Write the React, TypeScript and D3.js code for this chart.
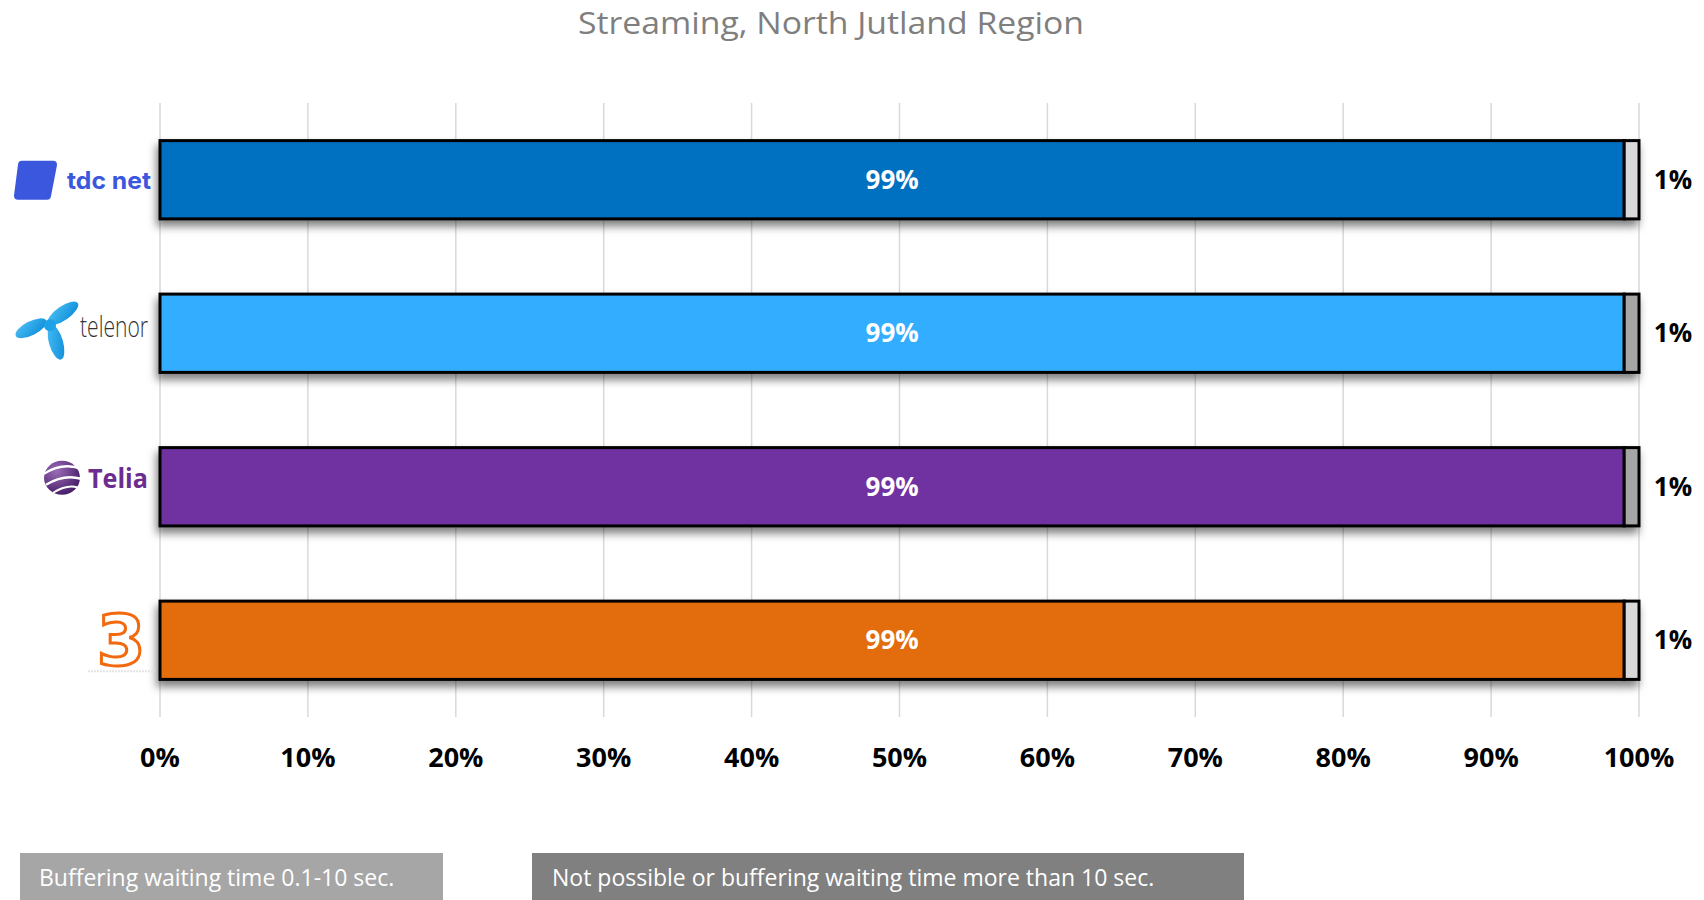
import React from "react";
import * as d3 from "d3";

const operators = ["tdc net", "telenor", "Telia", "3"];
const goodValues = [99, 99, 99, 99];
const restValues = [1, 1, 1, 1];
const barColors = ["#0070c0", "#33adff", "#7030a0", "#e36c0a"];
const restColors = ["#d9d9d9", "#a6a6a6", "#a6a6a6", "#d9d9d9"];
const xTicks = [0, 10, 20, 30, 40, 50, 60, 70, 80, 90, 100];
const legendLabels = [
  "Buffering waiting time 0.1-10 sec.",
  "Not possible or buffering waiting time more than 10 sec.",
];
const legendColors = ["#a6a6a6", "#808080"];
const title = "Streaming, North Jutland Region";

const W = 1704;
const H = 900;
const M = { left: 160, right: 65, top: 103, bottom: 183 };

function Logo({ name, cy }: { name: string; cy: number }) {
  if (name === "tdc net") {
    return (
      <g>
        <path
          d={`M22,${cy - 15} L53,${cy - 15} L47,${cy + 16} L18,${cy + 16} Z`}
          fill="#3b57dd"
          stroke="#3b57dd"
          strokeWidth={8}
          strokeLinejoin="round"
        />
        <text x={67} y={cy + 9} fontFamily="Inter, 'Open Sans', sans-serif" fontWeight={700} fontSize={24} textLength={84} lengthAdjust="spacingAndGlyphs" fill="#3b57dd">
          tdc net
        </text>
      </g>
    );
  }
  if (name === "telenor") {
    const c = cy - 8;
    return (
      <g>
        <defs>
          <linearGradient id="tg" x1="0" y1="0" x2="1" y2="1">
            <stop offset="0" stopColor="#4cc0f5" />
            <stop offset="1" stopColor="#0a8ad8" />
          </linearGradient>
        </defs>
        <ellipse cx={63} cy={c - 12} rx={18} ry={7} transform={`rotate(-35 63 ${c - 12})`} fill="url(#tg)" />
        <ellipse cx={31} cy={c + 3} rx={17} ry={7} transform={`rotate(-27 31 ${c + 3})`} fill="url(#tg)" />
        <ellipse cx={56} cy={c + 17} rx={7} ry={18} transform={`rotate(-16 56 ${c + 17})`} fill="url(#tg)" />
        <circle cx={50} cy={c} r={6} fill="#1da2e8" />
        <text x={80} y={c + 12} fontFamily="'Open Sans', sans-serif" fontWeight={300} fontSize={29} textLength={68} lengthAdjust="spacingAndGlyphs" fill="#333">
          telenor
        </text>
      </g>
    );
  }
  if (name === "Telia") {
    const cx = 62;
    const c = cy - 9;
    return (
      <g>
        <defs>
          <radialGradient id="telg" cx="0.35" cy="0.3" r="0.8">
            <stop offset="0" stopColor="#9a6cb8" />
            <stop offset="1" stopColor="#3f1660" />
          </radialGradient>
        </defs>
        <ellipse cx={cx} cy={c} rx={18} ry={17} fill="url(#telg)" />
        <path d={`M${cx - 18},${c - 4} Q${cx},${c - 16} ${cx + 20},${c - 9}`} stroke="#fff" strokeWidth={2.5} fill="none" />
        <path d={`M${cx - 16},${c + 7} Q${cx + 2},${c - 4} ${cx + 19},${c + 1}`} stroke="#fff" strokeWidth={2.5} fill="none" />
        <path d={`M${cx - 9},${c + 15} Q${cx + 6},${c + 6} ${cx + 16},${c + 10}`} stroke="#fff" strokeWidth={2} fill="none" />
        <text x={88} y={c + 10} fontFamily="'Open Sans', sans-serif" fontWeight={700} fontSize={26} textLength={60} lengthAdjust="spacingAndGlyphs" fill="#6b2d8f">
          Telia
        </text>
      </g>
    );
  }
  return (
    <g>
      <text x={121} y={cy + 25} textAnchor="middle" fontFamily="'DejaVu Sans', sans-serif" fontWeight={700} fontSize={70} fill="#fff" stroke="#f26a10" strokeWidth={3}>
        3
      </text>
      <line x1={88} x2={155} y1={cy + 31} y2={cy + 31} stroke="#e3e3e3" strokeWidth={2} strokeDasharray="2 1" />
    </g>
  );
}

export default function App() {
  const x = d3.scaleLinear().domain([0, 100]).range([M.left, W - M.right]);
  const y = d3
    .scaleBand<string>()
    .domain(operators)
    .range([M.top, H - M.bottom])
    .paddingInner(0.49)
    .paddingOuter(0.245);
  const bh = y.bandwidth();

  return (
    <svg width={W} height={H} style={{ position: "absolute", left: 0, top: 0, background: "#fff" }}>
      <defs>
        <filter id="sh" x="-5%" y="-30%" width="110%" height="190%">
          <feDropShadow dx={-2} dy={6} stdDeviation={4} floodColor="#000" floodOpacity={0.5} />
        </filter>
      </defs>
      <text x={831} y={34} textAnchor="middle" fontFamily="'Open Sans', sans-serif" fontSize={31} textLength={506} lengthAdjust="spacingAndGlyphs" fill="#7f7f7f">
        {title}
      </text>
      {xTicks.map((t) => (
        <line key={t} x1={x(t)} x2={x(t)} y1={M.top} y2={H - M.bottom} stroke="#d9d9d9" strokeWidth={1.5} />
      ))}
      {operators.map((op, i) => {
        const y0 = y(op)!;
        const cy = y0 + bh / 2;
        return (
          <g key={op}>
            <g filter="url(#sh)">
              <rect x={x(0)} y={y0} width={x(goodValues[i]) - x(0)} height={bh} fill={barColors[i]} stroke="#000" strokeWidth={3} />
              <rect
                x={x(goodValues[i])}
                y={y0}
                width={x(goodValues[i] + restValues[i]) - x(goodValues[i])}
                height={bh}
                fill={restColors[i]}
                stroke="#000"
                strokeWidth={3}
              />
            </g>
            <text x={x(goodValues[i] / 2)} y={cy + 9} textAnchor="middle" fontFamily="'Open Sans', sans-serif" fontWeight={700} fontSize={26} fill="#fff">
              {goodValues[i]}%
            </text>
            <text x={x(100) + 34} y={cy + 9} textAnchor="middle" fontFamily="'Open Sans', sans-serif" fontWeight={700} fontSize={26} fill="#000">
              {restValues[i]}%
            </text>
            <Logo name={op} cy={cy} />
          </g>
        );
      })}
      {xTicks.map((t) => (
        <text key={t} x={x(t)} y={767} textAnchor="middle" fontFamily="'Open Sans', sans-serif" fontWeight={700} fontSize={27} fill="#000">
          {t}%
        </text>
      ))}
      <rect x={20} y={853} width={423} height={47} fill={legendColors[0]} />
      <text x={39} y={886} fontFamily="'Open Sans', sans-serif" fontSize={23} fill="#fff">
        {legendLabels[0]}
      </text>
      <rect x={532} y={853} width={712} height={47} fill={legendColors[1]} />
      <text x={552} y={886} fontFamily="'Open Sans', sans-serif" fontSize={23} fill="#fff">
        {legendLabels[1]}
      </text>
    </svg>
  );
}
